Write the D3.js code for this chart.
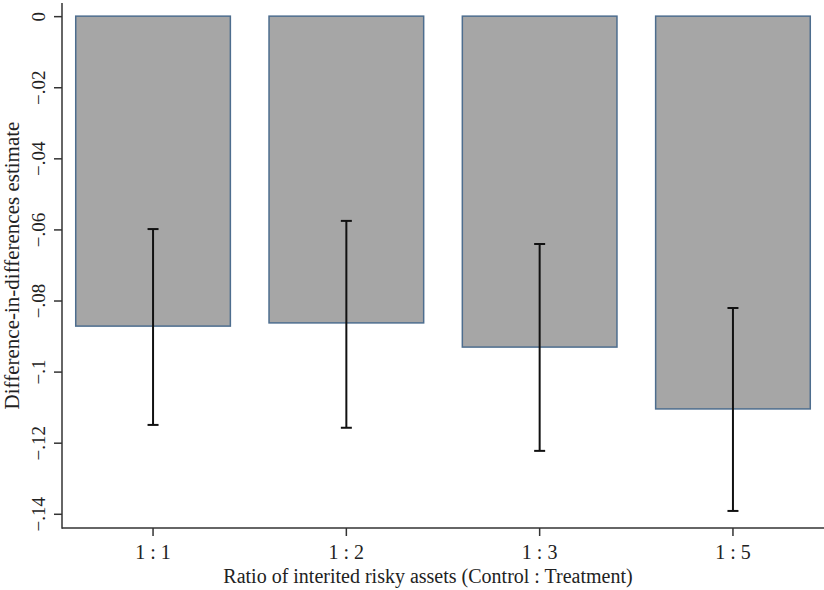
<!doctype html>
<html lang="en">
<head>
  <meta charset="utf-8">
  <title>DiD estimates by ratio</title>
  <style>
    * { margin: 0; padding: 0; box-sizing: border-box; }
    body { background: #fff; }
    #container { width: 824px; height: 590px; }
    text { font-family: "Liberation Serif", "DejaVu Serif", serif; fill: #222; }
  </style>
</head>
<body>
  <div id="container"></div>
  <script src="https://cdn.jsdelivr.net/npm/d3@7"></script>
  <script>
    // values
    const categories = ['1 : 1', '1 : 2', '1 : 3', '1 : 5'];
    const estimates  = [-0.0872, -0.0863, -0.0931, -0.1105];
    const ciUpper    = [-0.0599, -0.0576, -0.0641, -0.0821];
    const ciLower    = [-0.1150, -0.1158, -0.1223, -0.1392];
    const yTicks     = [0, -0.02, -0.04, -0.06, -0.08, -0.1, -0.12, -0.14];

    const W = 824, H = 590;
    const plot = {left: 62, right: 824, top: 3, bottom: 528};
    const serif = '"Liberation Serif", "DejaVu Serif", serif';

    const svg = d3.select('#container').append('svg')
      .attr('width', W)
      .attr('height', H);

    const x = d3.scaleBand()
      .domain(categories)
      .range([plot.left, plot.right])
      .paddingInner(0.2)
      .paddingOuter(0.071);

    const y = d3.scaleLinear()
      .domain([0.0037, -0.144])
      .range([plot.top, plot.bottom]);

    const fmt = d => d === 0 ? '0' : d3.format('.2f')(d).replace('0.', '.').replace(/0$/, '');

    const rows = categories.map((c, i) => ({c, est: estimates[i], hi: ciUpper[i], lo: ciLower[i]}));

    // bars
    svg.append('g').selectAll('rect').data(rows).enter().append('rect')
      .attr('x', d => x(d.c))
      .attr('y', y(0))
      .attr('width', x.bandwidth())
      .attr('height', d => y(d.est) - y(0))
      .attr('fill', '#a6a6a6')
      .attr('stroke', '#4d6d8e')
      .attr('stroke-width', 1.5);

    // error bars
    const eb = svg.append('g').attr('stroke', '#111').attr('stroke-width', 2);
    const cx = d => x(d.c) + x.bandwidth() / 2;
    eb.selectAll('line.v').data(rows).enter().append('line')
      .attr('class', 'v')
      .attr('x1', cx).attr('x2', cx)
      .attr('y1', d => y(d.hi)).attr('y2', d => y(d.lo));
    eb.selectAll('line.t').data(rows).enter().append('line')
      .attr('class', 't')
      .attr('x1', d => cx(d) - 5.5).attr('x2', d => cx(d) + 5.5)
      .attr('y1', d => y(d.hi)).attr('y2', d => y(d.hi));
    eb.selectAll('line.b').data(rows).enter().append('line')
      .attr('class', 'b')
      .attr('x1', d => cx(d) - 5.5).attr('x2', d => cx(d) + 5.5)
      .attr('y1', d => y(d.lo)).attr('y2', d => y(d.lo));

    // y axis
    const yAxis = svg.append('g')
      .attr('transform', `translate(${plot.left},0)`)
      .call(d3.axisLeft(y).tickValues(yTicks).tickFormat(fmt).tickSize(8).tickPadding(0))
      .attr('font-family', serif);
    yAxis.select('.domain').remove();
    yAxis.selectAll('.tick line').attr('stroke', '#333').attr('stroke-width', 1.5);
    yAxis.selectAll('.tick text')
      .attr('x', null).attr('dy', null)
      .attr('transform', 'translate(-17,0) rotate(-90)')
      .attr('text-anchor', 'middle')
      .style('font-size', '19px')
      .attr('fill', '#222');

    // x axis
    const xAxis = svg.append('g')
      .attr('transform', `translate(0,${plot.bottom})`)
      .call(d3.axisBottom(x).tickSize(8).tickPadding(9))
      .attr('font-family', serif);
    xAxis.select('.domain').remove();
    xAxis.selectAll('.tick line').attr('stroke', '#333').attr('stroke-width', 1.5);
    xAxis.selectAll('.tick text')
      .style('font-size', '20px')
      .attr('fill', '#222');

    // axis lines
    svg.append('line')
      .attr('x1', plot.left).attr('x2', plot.left)
      .attr('y1', plot.top).attr('y2', plot.bottom + 0.75)
      .attr('stroke', '#333').attr('stroke-width', 1.5);
    svg.append('line')
      .attr('x1', plot.left).attr('x2', plot.right)
      .attr('y1', plot.bottom).attr('y2', plot.bottom)
      .attr('stroke', '#333').attr('stroke-width', 1.5);

    // axis titles
    svg.append('text')
      .attr('x', (plot.left + plot.right) / 2 - 15)
      .attr('y', 583)
      .attr('text-anchor', 'middle')
      .style('font-size', '20px')
      .text('Ratio of interited risky assets (Control : Treatment)');

    svg.append('text')
      .attr('transform', `translate(19,${(plot.top + plot.bottom) / 2}) rotate(-90)`)
      .attr('text-anchor', 'middle')
      .style('font-size', '21px')
      .text('Difference-in-differences estimate');
  </script>
</body>
</html>
